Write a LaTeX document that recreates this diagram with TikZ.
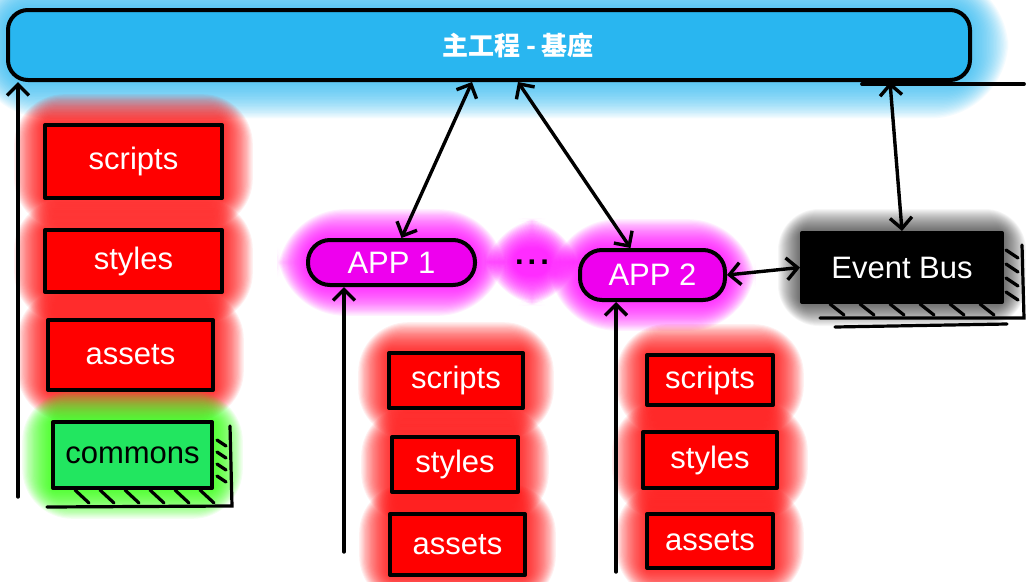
\documentclass[tikz,border=0pt]{standalone}
\usepackage{fontspec}
\setmainfont{Liberation Sans}
\newfontfamily\cjk{Noto Sans CJK SC}
\usetikzlibrary{arrows.meta,calc,backgrounds}
\definecolor{barblue}{HTML}{29B6F0}
\definecolor{appmag}{HTML}{EE00EE}
\definecolor{glowmag}{HTML}{FF00FF}
\definecolor{cgreen}{HTML}{22E660}
\newcommand\glowof[6]{% node, color, base corner, step, opacity, layers
  \begin{scope}[on background layer]
  \foreach \k in {1,...,#6}{
    \pgfmathsetmacro\dd{\k*#4}
    \pgfmathsetmacro\rr{#3+\k*#4*1.6}
    \fill[#2, opacity=#5, rounded corners=\rr pt]
      ([xshift=-\dd pt,yshift=-\dd pt]#1.south west) rectangle
      ([xshift=\dd pt,yshift=\dd pt]#1.north east);
  }
  \end{scope}}
\tikzset{
  box/.style={draw=black, line width=4pt, inner sep=0pt, text=white,
    font=\fontsize{31}{34}\selectfont, line join=round},
  redbox/.style={box, fill=red},
  appbox/.style={box, fill=appmag, rounded corners=22pt},
  tip/.tip={Straight Barb[length=11pt,width=22pt,line width=3.4pt]},
  arr/.style={line width=3.4pt, line cap=round, -tip},
  darr/.style={line width=3.4pt, line cap=round, tip-tip},
  hatch/.style={line width=3.2pt, line cap=round},
}
\begin{document}
\begin{tikzpicture}[x=1pt,y=-1pt]
\useasboundingbox (0,0) rectangle (1028,581);

% top bar
\node[box, fill=barblue, rounded corners=20pt, minimum width=962pt, minimum height=70pt,
      font=\cjk\bfseries\fontsize{26}{28}\selectfont] (main) at (489,45) {\hspace*{58pt}主工程 - 基座};
\glowof{main}{barblue}{20}{1.4}{0.05}{26}
\draw[line width=3.8pt, line cap=round] ([xshift=-110pt,yshift=-2pt]main.south east) -- ++(162,0);

% left column
\node[redbox, minimum width=177pt, minimum height=73pt] (ls) at (133.5,161.5) {scripts};
\node[redbox, minimum width=177pt, minimum height=62pt] (lt) at (133.5,261) {styles};
\node[redbox, minimum width=165pt, minimum height=70pt] (la) at (130.5,355) {assets};
\node[box, fill=cgreen, text=black, minimum width=159pt, minimum height=66pt] (lc) at (132.5,455) {commons};
\glowof{ls}{red}{4}{1.2}{0.06}{24}
\glowof{lt}{red}{4}{1.2}{0.06}{24}
\glowof{la}{red}{4}{1.2}{0.06}{24}
\glowof{lc}{green!80!lime}{4}{1.2}{0.06}{24}
% commons hatching
\draw[hatch] ([xshift=16pt,yshift=-6pt]lc.north east) -- ([xshift=18pt,yshift=-16pt]lc.south east)
  -- ([xshift=-4pt,yshift=-17pt]lc.south west);
\foreach \yy in {440,452,464,476}{\draw[hatch] (217,\yy) -- (226,\yy+6);}
\foreach \xx in {75,100,125,150,175,200}{\draw[hatch] (\xx,490) -- (\xx+14,503);}

% apps
\node[appbox, minimum width=167pt, minimum height=45pt] (app1) at (391.5,262.5) {APP 1};
\node[appbox, minimum width=145pt, minimum height=50pt] (app2) at (652.5,275) {APP 2};
\glowof{app1}{glowmag}{22}{1.2}{0.06}{24}
\glowof{app2}{glowmag}{22}{1.2}{0.06}{24}
\node[inner sep=0pt, minimum size=24pt, font=\fontsize{31}{34}\selectfont\bfseries] (dots) at (532,262) {.\hspace{4pt}.\hspace{4pt}.};
\glowof{dots}{glowmag}{12}{1.3}{0.07}{24}

% event bus
\node[box, fill=black, minimum width=200pt, minimum height=69pt] (eb) at (902,267.5) {Event Bus};
\glowof{eb}{black}{6}{1}{0.035}{22}
\draw[hatch] ([xshift=18pt,yshift=-14pt]eb.north east) -- ([xshift=20pt,yshift=-14pt]eb.south east)
  -- ([xshift=20pt,yshift=-14pt]eb.south west);
\foreach \yy in {250,264,278,292}{\draw[hatch] (1006,\yy) -- (1018,\yy+8);}
\foreach \xx in {830,860,890,920,950,980}{\draw[hatch] (\xx,304) -- (\xx+14,315);}
\draw[hatch] (835,327) -- (1007,324);

% middle column
\node[redbox, minimum width=134pt, minimum height=55pt] (ms) at (456,380.5) {scripts};
\node[redbox, minimum width=126pt, minimum height=55pt] (mt) at (455,464.5) {styles};
\node[redbox, minimum width=135pt, minimum height=61pt] (ma) at (457.5,544.5) {assets};
% right column
\node[redbox, minimum width=126pt, minimum height=50pt] (rs) at (710,380) {scripts};
\node[redbox, minimum width=134pt, minimum height=56pt] (rt) at (710,460) {styles};
\node[redbox, minimum width=126pt, minimum height=54pt] (ra) at (710,541) {assets};
\foreach \n in {ms,mt,ma,rs,rt,ra}{\glowof{\n}{red}{4}{1.2}{0.06}{24}}

% connectors
\coordinate (lbot) at (18,497);
\coordinate (b1) at (344,552);
\coordinate (b2) at (616,572);
\draw[arr] (lbot) -- (lbot |- main.south);
\draw[arr] (b1) -- (b1 |- app1.south);
\draw[arr] (b2) -- (b2 |- app2.south);
\draw[darr] ([xshift=-17pt]main.south) -- ([xshift=10pt]app1.north);
\draw[darr] ([xshift=29pt]main.south) -- ([xshift=-22pt]app2.north);
\draw[darr] ([xshift=401pt]main.south) -- (eb.north);
\draw[darr] (app2.east) -- (eb.west);
\end{tikzpicture}
\end{document}
